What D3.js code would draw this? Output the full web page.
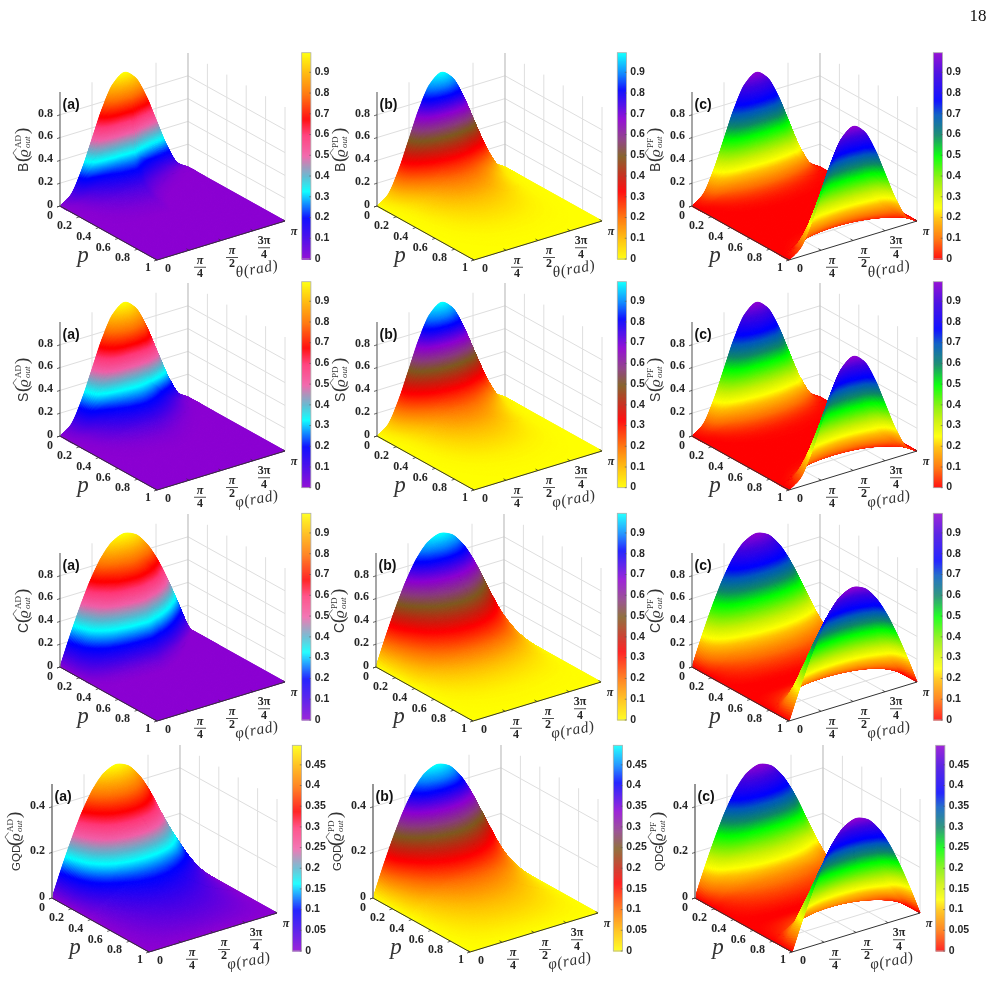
<!DOCTYPE html>
<html><head><meta charset="utf-8">
<style>
html,body{margin:0;padding:0;background:#fff}
#wrap{position:relative;width:1001px;height:981px;overflow:hidden}
#wrap svg,#wrap canvas{position:absolute;left:0;top:0}
</style>
<script src="https://cdn.jsdelivr.net/npm/d3@7/dist/d3.min.js"></script>
</head><body><div id="wrap"></div>
<script>
// Angle samples (fractions of pi) and surface height along the p = 0 edge.
const angleFrac   = [0,.083,.167,.25,.333,.417,.5,.583,.667,.75,.833,.917,1];
const edgeSquared = [0,.067,.25,.5,.75,.933,1,.933,.75,.5,.25,.067,0];
const edgeSine    = [0,.259,.5,.707,.866,.966,1,.966,.866,.707,.5,.259,0];

// How much quicker the height falls with p at each angle (amplitude damping only).
const fallNone    = [1,1,1,1,1,1,1,1,1,1,1,1,1];
const fallB       = [1,1,1,1,1,1,1,1.4,1.9,2.4,3,4,5];
const fallS       = [1,1,1,1,1,1,1,1.05,1.15,1.3,1.5,1.8,2.2];
const fallC       = [1,1,1,1,1,1,1,1.1,1.25,1.5,2,3,6];

// Height along the ridge theta = pi/2 for each panel: positions in p, then z.
const bAD_p = [0,.02,.04,.05,.06,.07,.08,.1,.12,.15,.18,.22,.26,.32,.4,.5,1];
const bAD_z = [1,.93,.82,.72,.55,.38,.3,.24,.2,.14,.1,.07,.05,.025,.01,0,0];
const bPD_p = [0,.02,.05,.08,.11,.14,.17,.2,.26,.34,.42,.55,.7,.85,1];
const bPD_z = [1,.96,.86,.68,.5,.38,.29,.24,.18,.13,.09,.05,.02,.005,0];
const bPF_p = [0,.02,.05,.07,.09,.11,.14,.18,.24,.3,.5,.7,.76,.82,.86,.89,.91,.93,.95,.98,1];
const bPF_z = [1,.9,.7,.5,.28,.17,.09,.04,.015,.005,0,.005,.015,.04,.09,.17,.28,.5,.7,.9,1];

const sAD_p = [0,.03,.06,.09,.11,.13,.16,.2,.24,.28,.33,.4,.5,.6,1];
const sAD_z = [1,.94,.85,.72,.55,.38,.28,.2,.14,.09,.05,.02,.005,0,0];
const sPD_p = [0,.02,.05,.08,.11,.14,.17,.2,.26,.34,.42,.55,.7,.85,1];
const sPD_z = [1,.96,.87,.7,.54,.41,.32,.26,.19,.14,.1,.055,.02,.005,0];
const sPF_p = [0,.03,.06,.08,.1,.13,.17,.22,.3,.5,.7,.78,.83,.87,.9,.92,.94,.97,1];
const sPF_z = [1,.87,.7,.52,.33,.18,.08,.03,.008,0,.008,.03,.08,.18,.33,.52,.7,.87,1];

const cAD_p = [0,.04,.08,.12,.16,.2,.24,.27,.3,.33,.37,.45,1];
const cAD_z = [1,.92,.81,.72,.58,.44,.3,.2,.11,.05,.02,0,0];
const cPD_p = [0,.05,.1,.15,.2,.25,.3,.35,.4,.5,.6,.7,.8,1];
const cPD_z = [1,.88,.74,.62,.52,.43,.35,.28,.21,.115,.06,.03,.012,0];
const cPF_p = [0,.04,.08,.12,.16,.2,.25,.3,.35,.42,.5,.58,.65,.7,.75,.8,.84,.88,.92,.96,1];
const cPF_z = [1,.9,.74,.52,.32,.2,.12,.07,.04,.01,0,.01,.04,.07,.12,.2,.32,.52,.74,.9,1];

const qAD_p = [0,.05,.1,.15,.2,.26,.32,.4,.5,.6,.75,.9,1];
const qAD_z = [.5,.45,.4,.35,.29,.22,.155,.105,.075,.055,.035,.015,0];
const qPD_p = [0,.05,.1,.16,.24,.32,.4,.5,.62,.75,.88,1];
const qPD_z = [.5,.45,.375,.29,.21,.15,.105,.075,.05,.03,.0125,0];
const qPF_p = [0,.04,.09,.13,.18,.22,.28,.35,.43,.5,.57,.65,.72,.78,.82,.87,.91,.96,1];
const qPF_z = [.5,.435,.33,.21,.13,.075,.045,.025,.008,0,.008,.025,.045,.075,.13,.21,.33,.435,.5];

// Tick labels.
const ticksUnit = [0,.2,.4,.6,.8];
const ticksHalf = [0,.2,.4];
const barUnit = [0,.1,.2,.3,.4,.5,.6,.7,.8,.9];
const barHalf = [0,.05,.1,.15,.2,.25,.3,.35,.4,.45];
const pTicks = [0,.2,.4,.6,.8,1];
const angleTicks = [["0"],["π","4"],["π","2"],["3π","4"],["π"]];
const channels = ["AD","PD","PF"];
const panelTags = ["(a)","(b)","(c)"];

// Colour ramps: stops given as fraction of the colour range.
const rampAD = [[0,"#8c00d2"],[.1,"#4400e8"],[.2,"#0000ff"],[.33,"#00ffff"],[.4,"#58b8d0"],[.45,"#a090b8"],[.5,"#f060a8"],[.6,"#ff3878"],[.68,"#ff0000"],[.8,"#ff7000"],[.9,"#ffb400"],[1,"#ffff00"]];
const rampPD = [[0,"#ffff00"],[.1,"#ffbb00"],[.2,"#ff7000"],[.33,"#ff0000"],[.4,"#c82010"],[.5,"#7f5a20"],[.58,"#8a3a80"],[.68,"#8c00d2"],[.82,"#0000ff"],[.9,"#0080ff"],[1,"#00ffff"]];
const rampPF = [[0,"#ff0000"],[.1,"#ff7000"],[.2,"#ffc000"],[.25,"#ffff00"],[.33,"#c8f000"],[.4,"#80f000"],[.5,"#00ff00"],[.6,"#108868"],[.7,"#0058c0"],[.77,"#0000ff"],[.9,"#4000e0"],[1,"#8c00d2"]];

const rows = [
 {name:"B", angle:"θ", oy:206, labY:-56, edge:edgeSquared, zTop:1, zTicks:ticksUnit, barTicks:barUnit, barY:[52.7,259], ox:[60,377,692], barX:[301.7,617.3,933.3], falls:[fallB,fallNone,fallNone],
  ridges:[[bAD_p,bAD_z],[bPD_p,bPD_z],[bPF_p,bPF_z]]},
 {name:"S", angle:"φ", oy:436, labY:-56, edge:edgeSquared, zTop:1, zTicks:ticksUnit, barTicks:barUnit, barY:[281.7,487.7], ox:[60,377,692], barX:[301.7,617.3,933.3], falls:[fallS,fallNone,fallNone],
  ridges:[[sAD_p,sAD_z],[sPD_p,sPD_z],[sPF_p,sPF_z]]},
 {name:"C", angle:"φ", oy:667, labY:-56, edge:edgeSine, zTop:1, zTicks:ticksUnit, barTicks:barUnit, barY:[513.3,720], ox:[60,376,692], barX:[301.7,617.3,933.3], falls:[fallC,fallNone,fallNone],
  ridges:[[cAD_p,cAD_z],[cPD_p,cPD_z],[cPF_p,cPF_z]]},
 {name:"GQD", angle:"φ", oy:898, labY:-51, edge:edgeSine, zTop:.5, zTicks:ticksHalf, barTicks:barHalf, barY:[745.3,951], ox:[52,373,695], barX:[292.3,613.3,935.7], falls:[fallNone,fallNone,fallNone],
  ridges:[[qAD_p,qAD_z],[qPD_p,qPD_z],[qPF_p,qPF_z]], names:["GQD","GQD","QDG"]}
];
const ramps = [rampAD,rampPD,rampPF];

// Monotone cubic through the given samples.
function monotone(xs,ys){
  const n=xs.length,h=[],d=[],m=new Array(n);
  for(let i=0;i<n-1;i++){h[i]=xs[i+1]-xs[i];d[i]=(ys[i+1]-ys[i])/h[i];}
  m[0]=d[0];m[n-1]=d[n-2];
  for(let i=1;i<n-1;i++){
    if(d[i-1]*d[i]<=0)m[i]=0;
    else{const a=2*h[i]+h[i-1],b=h[i]+2*h[i-1];m[i]=(a+b)/(a/d[i-1]+b/d[i]);}
  }
  return x=>{
    let i=Math.min(n-2,Math.max(0,d3.bisectRight(xs,x)-1));
    const t=(x-xs[i])/h[i],t2=t*t,t3=t2*t;
    return (2*t3-3*t2+1)*ys[i]+(t3-2*t2+t)*h[i]*m[i]+(-2*t3+3*t2)*ys[i+1]+(t3-t2)*h[i]*m[i+1];
  };
}

const W=1001,H=981;
const wrap=d3.select("#wrap");
const under=wrap.append("svg").attr("width",W).attr("height",H);
const canvas=wrap.append("canvas").attr("width",W).attr("height",H);
const over=wrap.append("svg").attr("width",W).attr("height",H);
const ctx=canvas.node().getContext("2d");

const serif="'Liberation Serif',serif", sans="'Liberation Sans',Arial,sans-serif";
const ink="#262626", gridInk="#dedede";

over.append("text").attr("x",978).attr("y",21).attr("text-anchor","middle")
  .attr("font-family",serif).attr("font-size",17).attr("fill","#111").text("18");

// Screen axes shared by every panel: sizes of the p, angle and z edges.
const pX=d3.scaleLinear([0,1],[0,97]), pY=d3.scaleLinear([0,1],[0,54]);
const aX=d3.scaleLinear([0,1],[0,128]), aY=d3.scaleLinear([0,1],[0,-39]);

rows.forEach((row,ri)=>{
  channels.forEach((ch,ci)=>{
    const ox=row.ox[ci], oy=row.oy;
    const zY=d3.scaleLinear([0,row.zTop],[0,-114]);
    const pr=(p,a,z)=>[ox+pX(p)+aX(a), oy+pY(p)+aY(a)+zY(z)];
    const line=d3.line();
    const seg=(g,a,b,col,w)=>g.append("path").attr("d",line([a,b])).attr("stroke",col).attr("stroke-width",w).attr("fill","none");

    // Walls and floor.
    const back=under.append("g");
    row.zTicks.slice(1).forEach(z=>{
      seg(back,pr(0,0,z),pr(0,1,z),gridInk,1);
      seg(back,pr(0,1,z),pr(1,1,z),gridInk,1);
    });
    [.25,.5,.75].forEach(a=>{
      seg(back,pr(0,a,0),pr(0,a,row.zTop),gridInk,1);
      seg(back,pr(0,a,0),pr(1,a,0),gridInk,1);
    });
    pTicks.slice(1).forEach(p=>{
      seg(back,pr(p,1,0),pr(p,1,row.zTop),gridInk,1);
      if(p<1)seg(back,pr(p,0,0),pr(p,1,0),gridInk,1);
    });
    seg(back,pr(0,0,0),pr(0,1,0),gridInk,1);
    seg(back,pr(0,1,0),pr(1,1,0),gridInk,1);
    seg(back,pr(0,1,0),pr(0,1,row.zTop),"#c4c4c4",1.3);

    // Surface: back-to-front quads coloured by height, with p steps
    // tightened wherever the ridge is steep on screen.
    const [rp,rz]=row.ridges[ci];
    const ridgeAt=monotone(rp,rz), edgeAt=monotone(angleFrac,row.edge), fallAt=monotone(angleFrac,row.falls[ci]);
    const ramp=ramps[ci];
    const colour=d3.scaleLinear().domain(ramp.map(d=>d[0])).range(ramp.map(d=>d[1])).interpolate(d3.interpolateRgb).clamp(true);
    const lut=d3.range(512).map(i=>colour(i/511));
    const NP=300,NA=150;
    const pNodes=[0];
    for(let i=0;i<NP;i++){
      const a=i/NP,b=(i+1)/NP;
      const sub=Math.ceil(Math.abs(ridgeAt(b)-ridgeAt(a))/row.zTop*114/.45)||1;
      for(let s=1;s<=sub;s++)pNodes.push(a+(b-a)*s/sub);
    }
    const edgeVals=d3.range(NA+1).map(j=>Math.max(0,edgeAt(j/NA)));
    const fallVals=d3.range(NA+1).map(j=>fallAt(j/NA));
    const field=pNodes.map(p=>edgeVals.map((e,j)=>e*Math.max(0,ridgeAt(Math.min(1,p*fallVals[j])))));
    const barTop=row.zTop*.9945;
    const shade=d3.scaleLinear([0,barTop],[0,511]).clamp(true);
    ctx.lineWidth=.7;
    for(let i=0;i<pNodes.length-1;i++){
      const f0=field[i],f1=field[i+1],p0=pNodes[i],p1=pNodes[i+1];
      for(let j=NA-1;j>=0;j--){
        const a0=j/NA,a1=(j+1)/NA;
        const q=[pr(p0,a0,f0[j]),pr(p0,a1,f0[j+1]),pr(p1,a1,f1[j+1]),pr(p1,a0,f1[j])];
        const c=lut[Math.round(shade((f0[j]+f0[j+1]+f1[j+1]+f1[j])/4))];
        ctx.fillStyle=c;ctx.strokeStyle=c;
        ctx.beginPath();ctx.moveTo(q[0][0],q[0][1]);ctx.lineTo(q[1][0],q[1][1]);ctx.lineTo(q[2][0],q[2][1]);ctx.lineTo(q[3][0],q[3][1]);ctx.closePath();
        ctx.fill();ctx.stroke();
      }
    }

    // Axes, ticks and labels.
    const g=over.append("g");
    if(row.zTop<1)seg(g,pr(0,0,0),pr(0,0,row.zTop),"#8a8a8a",1.8);
    else seg(g,pr(0,0,0),pr(0,0,row.zTop),"#777",1.3);
    seg(g,pr(0,0,0),pr(1,0,0),"#333",1);
    seg(g,pr(1,0,0),pr(1,1,0),"#333",1);
    const num=(x,y,t,anchor)=>g.append("text").attr("x",x).attr("y",y).attr("text-anchor",anchor||"middle")
      .attr("dominant-baseline","middle").attr("font-family",serif).attr("font-weight","bold").attr("font-size",12).attr("fill",ink).text(t);
    row.zTicks.forEach(z=>{
      const [x,y]=pr(0,0,z);
      seg(g,[x,y],[x-3,y+1],"#444",.8);
      num(x-7,y-1,z===0?"0":String(z),"end");
    });
    pTicks.forEach(p=>{
      const [x,y]=pr(p,0,0);
      seg(g,[x,y],[x-3,y+1],"#333",.8);
      const dx=p===0?-10:p===1?-9:-15, dy=p===0?10:p===1?8:9.5;
      num(x+dx,y+dy,String(p));
    });
    angleTicks.forEach((lab,k)=>{
      const a=k/4,[x,y]=pr(1,a,0);
      seg(g,[x,y],[x-2.5,y-1.5],"#333",.8);
      if(lab.length===2){
        const cx=x+11,cy=y+17;
        g.append("text").attr("x",cx).attr("y",cy-6.5).attr("text-anchor","middle").attr("dominant-baseline","middle")
          .attr("font-family",serif).attr("font-weight","bold").attr("font-style",lab[0]==="π"?"italic":"normal").attr("font-size",12).attr("fill",ink).text(lab[0]);
        seg(g,[cx-6,cy],[cx+6,cy],ink,.8);
        num(cx,cy+7,lab[1]);
      }else if(k===0){
        num(x+11,y+9,"0");
      }else{
        g.append("text").attr("x",x+9).attr("y",y+11).attr("text-anchor","middle").attr("dominant-baseline","middle")
          .attr("font-family",serif).attr("font-weight","bold").attr("font-style","italic").attr("font-size",12).attr("fill",ink).text("π");
      }
    });
    g.append("text").attr("x",ox+23).attr("y",oy+51).attr("text-anchor","middle").attr("dominant-baseline","middle")
      .attr("font-family",serif).attr("font-style","italic").attr("font-size",23).attr("fill","#333").text("p");
    g.append("text").attr("transform",`translate(${ox+197},${oy+64}) rotate(-10)`).attr("text-anchor","middle").attr("dominant-baseline","middle")
      .attr("font-family",serif).attr("font-style","italic").attr("font-size",15.5).attr("letter-spacing",.6).attr("fill","#333").text(row.angle+"(rad)");
    g.append("text").attr("x",ox+2.5).attr("y",oy-101).attr("dominant-baseline","middle")
      .attr("font-family",sans).attr("font-weight","bold").attr("font-size",14).attr("fill","#111").text(panelTags[ci]);

    // Rotated quantity label.
    const nm=row.names?row.names[ci]:row.name;
    const yl=g.append("g").attr("transform",`translate(${ox-37},${oy+row.labY}) rotate(-90)`);
    const lab=(u,v,t,size,fam,style)=>yl.append("text").attr("x",u).attr("y",v).attr("font-family",fam).attr("font-size",size).attr("font-style",style||"normal").attr("fill","#333").text(t);
    const long=nm.length>1;
    const u0=long?-24:-22;
    lab(u0,5,nm,long?11.5:14,sans);
    const u1=long?1:-12;
    lab(u1,5,"(",19,serif);
    lab(u1+5,5,"ϱ",15,serif,"italic");
    yl.append("path").attr("d",line([[u1+4.5,-6.5],[u1+9,-10],[u1+13.5,-6.5]])).attr("stroke","#333").attr("stroke-width",.7).attr("fill","none");
    lab(u1+14,-2,ch,9,serif);
    lab(u1+14,7,"out",9,serif,"italic");
    lab(u1+28,5,")",19,serif);

    // Colour bar.
    const bx=row.barX[ci],[by0,by1]=row.barY;
    const barScale=d3.scaleLinear([0,barTop],[by1,by0]);
    const barH=by1-by0;
    for(let k=0;k<Math.ceil(barH);k++){
      ctx.fillStyle=lut[Math.round(511*Math.max(0,1-k/barH))];
      ctx.fillRect(bx,by0+k,9.2,1.2);
    }
    g.append("rect").attr("x",bx).attr("y",by0).attr("width",9.2).attr("height",barH).attr("fill","none").attr("stroke","#b0b0b0").attr("stroke-width",.8);
    row.barTicks.forEach(v=>{
      const y=barScale(v);
      seg(g,[bx+9.2,y],[bx+7.5,y],"#555",.6);
      g.append("text").attr("x",bx+13).attr("y",y).attr("dominant-baseline","middle")
        .attr("font-family",sans).attr("font-weight","bold").attr("font-size",10.5).attr("fill",ink).text(String(v));
    });
  });
});
</script></body></html>
